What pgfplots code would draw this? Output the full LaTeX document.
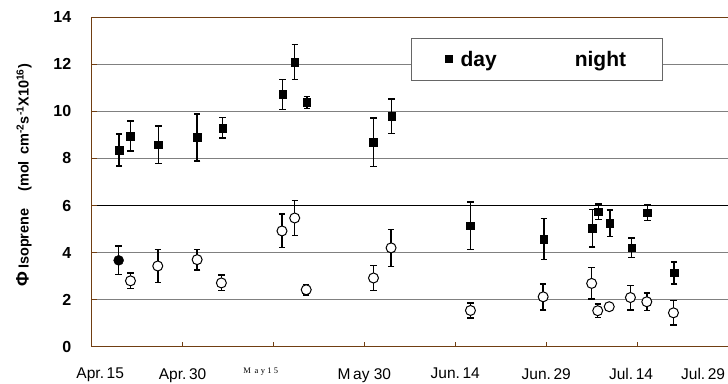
\documentclass[border=0pt]{standalone}
\usepackage{fontspec}
\setmainfont{Liberation Sans}
\newfontfamily\serifsmall{Liberation Serif}
\usepackage{pgfplots}
\pgfplotsset{compat=1.18}
\usepackage{pgfplotstable}
\definecolor{axbrown}{RGB}{112,62,18}
\definecolor{gridgray}{RGB}{128,128,128}

% x = days after Apr. 15
\pgfplotstableread{
x y e
4.5 8.36 0.68
6.4 8.96 0.64
11.0 8.59 0.80
17.4 8.90 1.00
21.6 9.30 0.44
31.5 10.72 0.63
33.5 12.10 0.75
35.5 10.38 0.25
46.5 8.69 1.04
49.5 9.80 0.73
62.5 5.14 1.00
74.6 4.58 0.87
82.6 5.04 0.80
83.6 5.74 0.33
85.5 5.25 0.57
89.1 4.21 0.42
91.7 5.69 0.33
96.1 3.14 0.47
}\daytable

\pgfplotstableread{
x y e
6.4 2.80 0.33
10.9 3.43 0.71
17.4 3.70 0.43
21.4 2.71 0.33
31.4 4.92 0.71
33.5 5.47 0.75
35.4 2.42 0.22
46.5 2.92 0.54
49.4 4.20 0.79
62.5 1.54 0.31
74.5 2.12 0.55
82.5 2.69 0.67
83.5 1.53 0.28
85.4 1.70 0.00
88.9 2.09 0.52
91.6 1.91 0.38
96.0 1.44 0.52
}\nighttable

\pgfplotstableread{
x y e
4.45 3.67 0.60
}\nightfilled

\begin{document}
\begin{tikzpicture}
\begin{axis}[name=ax, scale only axis, width=636.3pt, height=329.4pt,
  xmin=0, xmax=105, ymin=0, ymax=14,
  axis x line*=bottom, axis y line*=left,
  axis line style={axbrown, line width=1.4pt},
  tick align=inside, major tick length=5pt,
  tick style={axbrown, line width=1.2pt},
  /pgf/number format/assume math mode=true,
  xtick={15,30,...,90}, xticklabels={},
  extra x ticks={1.4,15,27.9,45,60,75,89,100.9},
  extra x tick labels={Apr.\,15,Apr.\,30,{\raisebox{3pt}{\serifsmall\fontsize{8.5}{8.5}\selectfont M\;\,a\;y\;1\;5}},M\,ay 30,Jun.\,14,Jun.\,29,Jul.\,14,Jul.\,29},
  extra x tick style={major tick length=0pt, tick style={draw=none}},
  xticklabel style={font=\fontsize{15.5}{15.5}\selectfont, yshift=-18pt},
  ytick={0,2,...,14},
  yticklabel style={font=\bfseries\fontsize{16}{16}\selectfont, xshift=-17pt},
  ymajorgrids, grid style={gridgray, line width=0.9pt},
  extra y ticks={6}, extra y tick labels={},
  extra y tick style={grid=major, grid style={black, line width=0.9pt}},
  ylabel={{\fontsize{18}{18}\selectfont\bfseries Φ}\,Isoprene\quad\,(mol\, cm\textsuperscript{-2}s\textsuperscript{-1}X10\textsuperscript{16})},
  every axis y label/.style={at={(axis description cs:-0.1064,0.521)}, rotate=90, anchor=center, font=\bfseries\fontsize{14.5}{14.5}\selectfont},
  legend style={at={(0.5013,0.9384)}, anchor=north west, draw=gray!80!black, line width=0.9pt, fill=white,
    font=\bfseries\fontsize{21}{21}\selectfont, inner xsep=34pt, inner ysep=11pt,
    /tikz/every even column/.append style={column sep=61pt}},
  legend columns=2, legend cell align=left,
]
\addplot[only marks, mark=square*, mark size=3.85pt, black,
  legend image code/.code={\fill[black] (0pt,-3.5pt) rectangle (7pt,3.5pt); \path[draw=none] (0pt,0pt) -- (13pt,0pt);},
  error bars/.cd, y dir=both, y explicit,
  error bar style={line width=1.5pt, black},
  error mark options={rotate=90, mark size=3.2pt, line width=1.5pt, black}]
  table[x=x, y=y, y error=e] {\daytable};
\addlegendentry{day}
\addplot[only marks, mark=*, mark size=5pt, mark options={fill=white, draw=black, line width=1pt},
  legend image code/.code={\path[draw=none,fill=none] (0pt,0pt) -- (13pt,0pt);},
  error bars/.cd, y dir=both, y explicit,
  error bar style={line width=1.5pt, black},
  error mark options={rotate=90, mark size=3.2pt, line width=1.5pt, black}]
  table[x=x, y=y, y error=e] {\nighttable};
\addlegendentry{night}
\addplot[forget plot, only marks, mark=*, mark size=5pt, mark options={fill=black, draw=black},
  error bars/.cd, y dir=both, y explicit,
  error bar style={line width=1.5pt, black},
  error mark options={rotate=90, mark size=3.2pt, line width=1.5pt, black}]
  table[x=x, y=y, y error=e] {\nightfilled};
\end{axis}
\draw[axbrown, line width=1.4pt] (ax.north west) -- (ax.north east);
\pgfresetboundingbox
\path[use as bounding box] ([xshift=-91.7pt,yshift=-36.3pt]ax.south west) rectangle ([yshift=17.3pt]ax.north east);
\end{tikzpicture}
\end{document}
